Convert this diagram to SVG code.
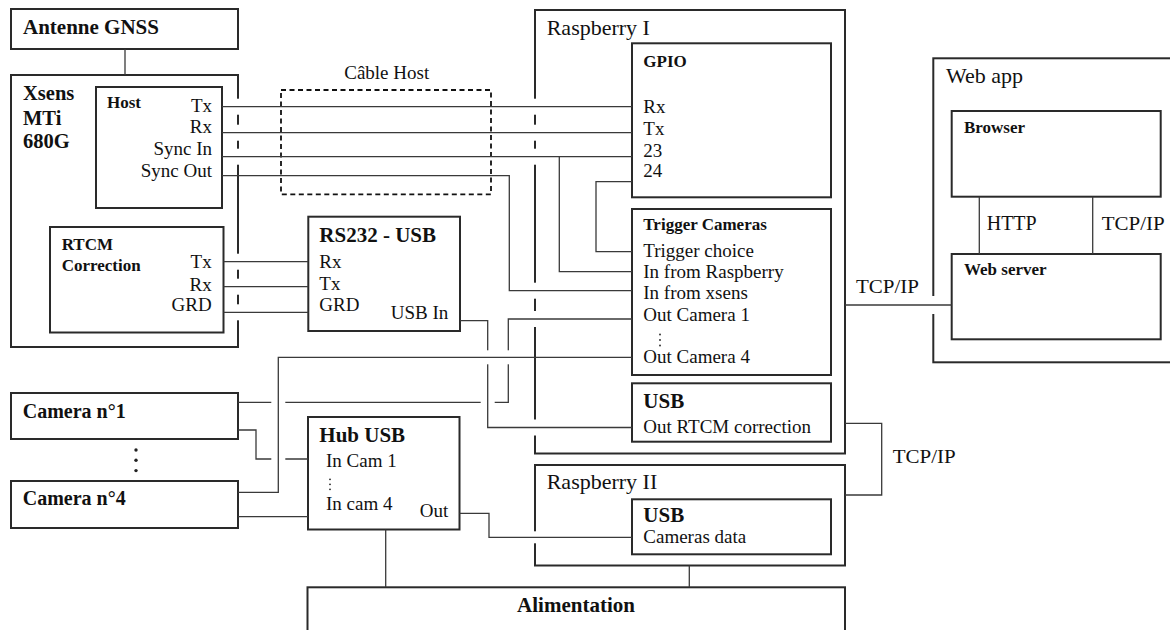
<svg xmlns="http://www.w3.org/2000/svg" width="1170" height="630" viewBox="0 0 1170 630">
<style>
.box{fill:none;stroke:#2a2a2a;stroke-width:2}
.ln{fill:none;stroke:#3a3a3a;stroke-width:1.3}
.dash{fill:none;stroke:#111;stroke-width:1.8;stroke-dasharray:5 3.5}
.cut{fill:#fff;stroke:none}
.t{font-family:"Liberation Serif","Times New Roman",serif;font-size:19px;fill:#111}
.b{font-weight:bold;font-size:17px}
.B{font-weight:bold;font-size:21px}
.L{font-size:22px}
.r{text-anchor:end}
.c{text-anchor:middle}
.dot{fill:#222}
</style>
<rect width="1170" height="630" fill="#fff"/>

<g id="antenne">
<rect class="box" x="11" y="9" width="227" height="40"/>
<text class="t B" x="23" y="34">Antenne GNSS</text>
</g>

<g id="xsens">
<rect class="box" x="11" y="75" width="227" height="272"/>
<text class="t B" x="23" y="100" style="font-size:20.5px">Xsens</text>
<text class="t B" x="23" y="125" style="font-size:20.5px">MTi</text>
<text class="t B" x="23" y="148" style="font-size:20.5px">680G</text>
</g>

<g id="host">
<rect class="box" x="96" y="87" width="126" height="121"/>
<text class="t b" x="107" y="108">Host</text>
<text class="t r" x="212" y="111.7">Tx</text>
<text class="t r" x="212" y="133.3">Rx</text>
<text class="t r" x="212" y="155">Sync In</text>
<text class="t r" x="212" y="176.5">Sync Out</text>
</g>

<g id="rtcm">
<rect class="box" x="50" y="227" width="173.5" height="105.5"/>
<text class="t b" x="61.7" y="250">RTCM</text>
<text class="t b" x="61.7" y="271">Correction</text>
<text class="t r" x="211.7" y="268.3">Tx</text>
<text class="t r" x="211.7" y="290.7">Rx</text>
<text class="t r" x="211.7" y="311">GRD</text>
</g>

<g id="rs232">
<rect class="box" x="308.3" y="216.7" width="151.7" height="114.3"/>
<text class="t B" x="319.3" y="241.7">RS232 - USB</text>
<text class="t" x="319.3" y="268.3">Rx</text>
<text class="t" x="319.3" y="290">Tx</text>
<text class="t" x="319.3" y="311">GRD</text>
<text class="t r" x="448.3" y="319">USB In</text>
</g>

<g id="cable-host">
<rect class="dash" x="281" y="90" width="210" height="104.3"/>
<text class="t c" x="386.7" y="79.3">Câble Host</text>
</g>

<g id="raspberry-1">
<rect class="box" x="535" y="10" width="310" height="443.5"/>
<text class="t L" x="546.7" y="35">Raspberry I</text>
</g>

<g id="gpio">
<rect class="box" x="632" y="43.3" width="199" height="154"/>
<text class="t b" x="643.3" y="66.7">GPIO</text>
<text class="t" x="643.3" y="113.3">Rx</text>
<text class="t" x="643.3" y="135">Tx</text>
<text class="t" x="643.3" y="156.7">23</text>
<text class="t" x="643.3" y="176.7">24</text>
</g>

<g id="trigger">
<rect class="box" x="632" y="209" width="199" height="166"/>
<text class="t b" x="643.3" y="230">Trigger Cameras</text>
<text class="t" x="643.3" y="256.7">Trigger choice</text>
<text class="t" x="643.3" y="278.3">In from Raspberry</text>
<text class="t" x="643.3" y="299.3">In from xsens</text>
<text class="t" x="643.3" y="321">Out Camera 1</text>
<circle class="dot" cx="660" cy="334.5" r="0.9"/>
<circle class="dot" cx="660" cy="340" r="0.9"/>
<circle class="dot" cx="660" cy="345.5" r="0.9"/>
<text class="t" x="643.3" y="363.3">Out Camera 4</text>
</g>

<g id="usb-1">
<rect class="box" x="632" y="383.3" width="199" height="58.4"/>
<text class="t B" x="643.3" y="408.3">USB</text>
<text class="t" x="643.3" y="433.3">Out RTCM correction</text>
</g>

<g id="raspberry-2">
<rect class="box" x="535" y="465" width="310" height="100.5"/>
<text class="t L" x="546.7" y="489.3">Raspberry II</text>
</g>

<g id="usb-2">
<rect class="box" x="632" y="499.3" width="199" height="55"/>
<text class="t B" x="643.3" y="521.7">USB</text>
<text class="t" x="643.3" y="542.7">Cameras data</text>
</g>

<g id="camera-1">
<rect class="box" x="11" y="393" width="227" height="46"/>
<text class="t B" x="22.7" y="418.3" style="font-size:20px">Camera n°1</text>
</g>

<g id="camera-dots">
<circle class="dot" cx="136" cy="450" r="1.7"/>
<circle class="dot" cx="136" cy="460.3" r="1.7"/>
<circle class="dot" cx="136" cy="470.6" r="1.7"/>
</g>

<g id="camera-4">
<rect class="box" x="11" y="481" width="227" height="47"/>
<text class="t B" x="22.7" y="505" style="font-size:20px">Camera n°4</text>
</g>

<g id="hub">
<rect class="box" x="308" y="417" width="151.5" height="112.5"/>
<text class="t B" x="319.3" y="441.7">Hub USB</text>
<text class="t" x="326" y="467.3">In Cam 1</text>
<circle class="dot" cx="330" cy="479.3" r="0.9"/>
<circle class="dot" cx="330" cy="484.3" r="0.9"/>
<circle class="dot" cx="330" cy="489.3" r="0.9"/>
<text class="t" x="326" y="509.5">In cam 4</text>
<text class="t r" x="448.3" y="516.7">Out</text>
</g>

<g id="alimentation">
<rect class="box" x="307.5" y="587.3" width="537.5" height="80"/>
<text class="t B c" x="576" y="611.7">Alimentation</text>
</g>

<g id="webapp">
<rect class="box" x="933.3" y="58.3" width="250" height="304"/>
<text class="t L" x="946" y="82.7">Web app</text>
</g>

<g id="browser">
<rect class="box" x="951.7" y="111" width="209" height="85.7"/>
<text class="t b" x="964" y="133.3">Browser</text>
</g>

<g id="webserver">
<rect class="box" x="951.7" y="254" width="209" height="85.3"/>
<text class="t b" x="964" y="275">Web server</text>
</g>

<g id="connectors">
<!-- gaps in box edges where lines pass -->
<g id="edge-gaps">
<rect class="cut" x="235" y="98.7" width="6" height="16"/>
<rect class="cut" x="235" y="124.7" width="6" height="16"/>
<rect class="cut" x="235" y="148.7" width="6" height="16"/>
<rect class="cut" x="235" y="253.7" width="6" height="16"/>
<rect class="cut" x="235" y="278.7" width="6" height="16"/>
<rect class="cut" x="235" y="304.3" width="6" height="16"/>
<rect class="cut" x="532" y="98.7" width="6" height="16"/>
<rect class="cut" x="532" y="124.7" width="6" height="16"/>
<rect class="cut" x="532" y="148.7" width="6" height="16"/>
<rect class="cut" x="532" y="282.7" width="6" height="16"/>
<rect class="cut" x="532" y="311" width="6" height="16"/>
<rect class="cut" x="532" y="419.5" width="6" height="16"/>
<rect class="cut" x="532" y="531.3" width="6" height="12"/>
<rect class="cut" x="930.3" y="296" width="6" height="18"/>
</g>
<path class="ln" d="M125,49 V75"/>
<path class="ln" d="M222,106.7 H632"/>
<path class="ln" d="M222,132.7 H632"/>
<path class="ln" d="M222,156.7 H632"/>
<path class="ln" d="M222,175.7 H509.3 V290.7 H632"/>
<path class="ln" d="M559.3,156.7 V271.7 H632"/>
<path class="ln" d="M632,181.7 H596 V251.7 H632"/>
<path class="ln" d="M223.5,261.7 H308.3"/>
<path class="ln" d="M223.5,286.7 H308.3"/>
<path class="ln" d="M223.5,312.3 H308.3"/>
<path class="ln" d="M238,430 H256 V459 H308"/>
<path class="ln" d="M238,516.7 H308"/>
<path class="ln" d="M459.5,513.3 H489 V537.3 H632"/>
<path class="ln" d="M385.7,529.5 V587.3"/>
<path class="ln" d="M689.3,565.5 V587.3"/>
<path class="ln" d="M845,305 H951.7"/>
<path class="ln" d="M845,423.3 H881.7 V495 H845"/>
<path class="ln" d="M979.3,196.7 V254"/>
<path class="ln" d="M1092.7,196.7 V254"/>
<!-- Out Camera 1 -->
<path class="ln" d="M632,319 H508.3 V402.3 H238"/>
<!-- USB In -->
<rect class="cut" x="480.7" y="399.8" width="14" height="5"/>
<path class="ln" d="M460,320.7 H487.7 V427.5 H632"/>
<!-- Out Camera 4 -->
<rect class="cut" x="485" y="350.3" width="5.4" height="14"/>
<rect class="cut" x="505.6" y="350.3" width="5.4" height="14"/>
<rect class="cut" x="271.3" y="399.8" width="14" height="5"/>
<rect class="cut" x="271.3" y="456.5" width="14" height="5"/>
<path class="ln" d="M632,357.3 H278.3 V492.3 H238"/>
<text class="t" x="856" y="293.3" textLength="63" lengthAdjust="spacingAndGlyphs">TCP/IP</text>
<text class="t" x="892.7" y="463.3" textLength="63" lengthAdjust="spacingAndGlyphs">TCP/IP</text>
<text class="t" x="986.7" y="230" style="font-size:20px">HTTP</text>
<text class="t" x="1101.7" y="230" textLength="63" lengthAdjust="spacingAndGlyphs">TCP/IP</text>
</g>
</svg>
